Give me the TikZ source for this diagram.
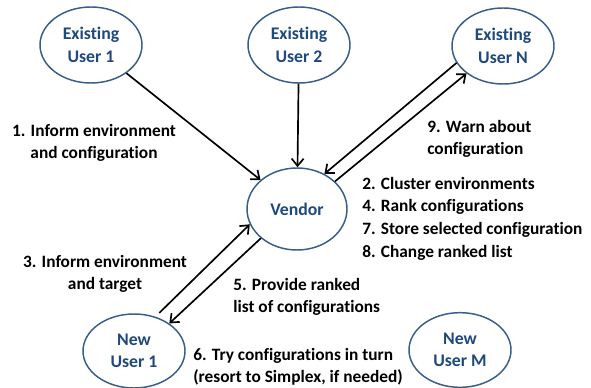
\documentclass[tikz,border=0pt]{standalone}
\usepackage{fontspec}
\setmainfont{Carlito}[Ligatures=NoCommon]
\usetikzlibrary{shapes.geometric,arrows.meta}
\definecolor{ellborder}{RGB}{56,93,138}
\definecolor{elltext}{RGB}{31,73,125}
\tikzset{
  user/.style={ellipse, draw=ellborder, line width=1.1pt, inner sep=0pt,
    minimum width=76.5pt, minimum height=57pt, align=center,
    text=elltext, font=\fontsize{13.3}{16.9}\selectfont\bfseries},
  lbl/.style={inner sep=0pt, text=black, font=\fontsize{13}{16.9}\selectfont\bfseries},
  arr/.style={line width=1.25pt, -{Straight Barb[length=5.5pt,width=9pt,line width=1.25pt]}}
}
\begin{document}
\begin{tikzpicture}[x=0.75pt,y=-0.75pt]
\fill[white] (0,0) rectangle (591,388);
\useasboundingbox (0,0) rectangle (591,388);
\node[user] (eu1) at (91,45) {Existing\\User 1};
\node[user] (eu2) at (299,45) {Existing\\User 2};
\node[user] (eun) at (503,46) {Existing\\User N};
\node[user, minimum width=75pt, minimum height=61.5pt] (vendor) at (297,209) {Vendor};
\node[user, minimum height=55.5pt] (nu1) at (134,351) {New\\User 1};
\node[user, minimum height=56pt] (num) at (460,350) {New\\User M};

\draw[arr] (eu1) -- (vendor);
\draw[arr] (eu2) -- (vendor);
\draw[arr] (eun.200) -- (vendor.52);
\draw[arr] (vendor.36) -- (eun.217);
\draw[arr, shorten <=4pt] (nu1.58) -- (vendor.198);
\draw[arr] (vendor.219.5) -- (nu1.38);

\node[lbl, anchor=north, align=center] (l1) at (94,124) {1. Inform environment\\and configuration};
\node[lbl, anchor=north west, align=left] (l9) at (427,120) {9. Warn about\\configuration};
\node[lbl, anchor=north west, align=left] (l2) at (362,177) {2. Cluster environments\\4. Rank configurations\\7. Store selected configuration\\8. Change ranked list};
\node[lbl, anchor=north, align=center] (l3) at (105,255) {3. Inform environment\\and target};
\node[lbl, anchor=north west, align=left] (l5) at (233,278) {5. Provide ranked\\list of configurations};
\node[lbl, anchor=north west, align=left] (l6) at (193,348) {6. Try configurations in turn\\(resort to Simplex, if needed)};
\end{tikzpicture}
\end{document}
